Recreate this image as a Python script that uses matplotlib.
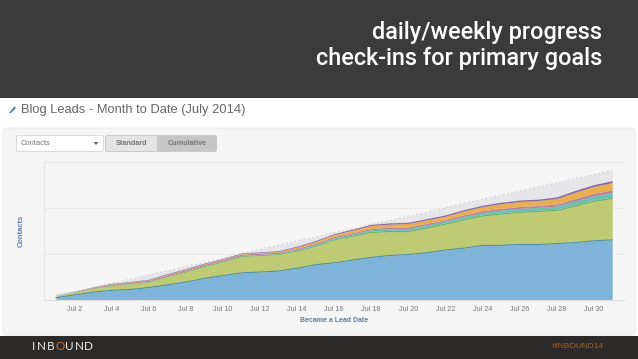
import numpy as np
import matplotlib
matplotlib.use('Agg')
from matplotlib import pyplot as plt
from matplotlib.patches import FancyBboxPatch, Rectangle, Polygon

W, H = 638, 359

# cumulative contacts per source, one value per day of July
days = list(range(1, 32))
tick_days = list(range(2, 31, 2))
tick_labels = ['Jul %d' % d for d in tick_days]
blue = [2, 5, 8, 10, 11, 13, 16, 19, 23, 26, 29, 30, 31, 34, 38, 40, 43, 46, 48, 49, 51, 54, 56, 59, 59, 60, 60, 61, 62, 64, 65]
olive = [2, 3, 4, 5, 6, 6, 9, 11, 13, 15, 18, 18, 18, 19, 20, 25, 26, 27, 26, 25, 27, 28, 31, 32, 34, 35, 36, 36, 40, 43, 45]
green = [.2, .3, .5, .7, .7, .8, .8, 1, 1, 1, 1, 1, 1, 1, 1.2, 1.2, 1.3, 1.5, 1.5, 1.5, 1.5, 1.5, 1.5, 1.5, 1.5, 1.5, 1.5, 1.5, 1.5, 1.5, 1.5]
teal = [0, 0, 0, 0, 0, 0, 0, .2, .2, .2, .2, .3, .3, .6, 1, 1, 1.3, 1.6, 1.8, 2, 2, 2, 2.2, 2.4, 3, 3, 3, 3.4, 4, 4.5, 5]
mauve = [.1, .2, .5, .8, .9, 1, 1.1, 1.2, 1.2, 1.2, 1.2, 1.3, 1.3, 1.3, 1.3, 1.3, 1.3, 1.4, 1.5, 1.6, 1.6, 1.6, 1.7, 1.9, 2, 2, 2, 2.2, 2.5, 2.8, 3]
orange = [.1, .1, .3, .4, .5, .5, .6, .6, .6, .6, .6, .7, .9, 1.4, 1.9, 2.3, 2.8, 3.2, 3.4, 3.8, 3.8, 3.8, 4.2, 4.5, 5, 5.4, 5.4, 6, 7, 7.5, 8]
purple = [.1, .2, .4, .6, .6, .7, .7, .7, .7, .7, .7, .7, .8, .9, 1, 1, 1.2, 1.3, 1.4, 1.4, 1.4, 1.4, 1.5, 1.5, 1.6, 1.6, 1.6, 1.8, 2, 2, 2.2]
# grey series behind the stack (dashed top edge)
goal = [5, 9, 13, 18, 22, 27, 31, 36, 40, 45, 50, 55, 59, 64, 68, 73, 77, 82, 86, 91, 95, 100, 105, 109, 114, 118, 123, 127, 132, 136, 141]

stack = [blue, olive, green, teal, mauve, orange, purple]
fills = ['#80b3da', '#bfcb74', '#6eb060', '#6cc0b0', '#b9809f', '#e9ad52', '#8a6aa6']
edges = ['#4b92aa', None, None, None, None, None, None]

fig = plt.figure(figsize=(W / 100, H / 100), dpi=100, facecolor='white')

# full figure layer in pixel coordinates for the slide furniture
bg = fig.add_axes([0, 0, 1, 1])
bg.set_xlim(0, W)
bg.set_ylim(H, 0)
bg.axis('off')
bg.add_patch(Rectangle((0, 0), W, 98, color='#3b3b3b', lw=0))
bg.add_patch(Rectangle((0, 336), W, 23, color='#2b2a29', lw=0))
bg.add_patch(FancyBboxPatch((6, 131), 626, 201, boxstyle='round,pad=3,rounding_size=4', fc='#f5f5f5', ec='#ececec', lw=0.8))

bg.text(602, 33, 'daily/weekly progress', color='white', fontsize=16.9, family='Roboto', weight='medium', ha='right', va='center')
bg.text(602, 58, 'check-ins for primary goals', color='white', fontsize=16.9, family='Roboto', weight='medium', ha='right', va='center')

bg.add_patch(Polygon([[9, 113], [11, 113], [16, 108], [14.5, 106.5]], color='#3f7fb8', lw=0))
bg.text(21, 110, 'Blog Leads - Month to Date (July 2014)', color='#666666', fontsize=9.3, family='Liberation Sans', ha='left', va='center')

# dropdown and toggle buttons
bg.add_patch(FancyBboxPatch((17, 136), 86, 15, boxstyle='round,pad=0.5,rounding_size=2', fc='white', ec='#d8d8d8', lw=0.7))
bg.text(21, 143.5, 'Contacts', color='#777777', fontsize=5.4, family='Liberation Sans', ha='left', va='center')
bg.add_patch(Polygon([[93.5, 142], [98.5, 142], [96, 145]], color='#666666', lw=0))
bg.add_patch(FancyBboxPatch((106, 136), 110, 15, boxstyle='round,pad=0.5,rounding_size=2', fc='#e4e4e4', ec='#c8c8c8', lw=0.7))
bg.add_patch(Rectangle((157, 135.6), 59.5, 15.8, color='#c6c6c6', lw=0))
bg.text(131.5, 143.5, 'Standard', color='#777777', fontsize=5.2, weight='bold', family='Liberation Sans', ha='center', va='center')
bg.text(187, 143.5, 'Cumulative', color='#777777', fontsize=5.2, weight='bold', family='Liberation Sans', ha='center', va='center')

# footer logo and hashtag
logo_x = [33.5, 41, 50.5, 60, 69.5, 79, 88.5]
for letter, lx in zip('INBOUND', logo_x):
    bg.text(lx, 347, letter, color='#c9702e' if letter == 'O' else '#f0f0f0', fontsize=8.4, family='Lato', ha='center', va='center')
bg.text(604, 347, '#INBOUND14', color='#a8622e', fontsize=6, family='Liberation Sans', ha='right', va='center')

# the chart, x from px 44 to 624, y from px 299.5 to 162
ax = fig.add_axes([44 / W, 1 - 299.5 / H, 580 / W, 137.5 / H])
ax.patch.set_alpha(0)
ax.set_xlim(0.353, 31.64)
ax.set_ylim(0, 150)
ax.set_yticks([50, 100, 150])
ax.set_yticklabels([])
ax.tick_params(axis='y', length=0)
ax.grid(axis='y', color='#e9e9e9', lw=0.8)
ax.set_axisbelow(True)
for s in ['top', 'right']:
    ax.spines[s].set_visible(False)
ax.spines['left'].set_color('#e6e6e6')
ax.spines['bottom'].set_color('#dddddd')
ax.spines['left'].set_linewidth(0.8)
ax.spines['bottom'].set_linewidth(0.8)

ax.fill_between(days, 0, goal, color='#e6e6e8', lw=0, zorder=1)
ax.plot(days, goal, color='#d2d2d4', lw=0.8, ls=(0, (2, 2)), zorder=1.5)

base = np.zeros(len(days))
for vals, fc, ec in zip(stack, fills, edges):
    top = base + np.array(vals)
    ax.fill_between(days, base, top, color=fc, lw=0, zorder=2)
    if ec:
        ax.plot(days, top, color=ec, lw=0.8, zorder=3)
    base = top

ax.set_xticks(tick_days)
ax.set_xticklabels(tick_labels, fontsize=5.2, color='#777777', family='Liberation Sans')
ax.tick_params(axis='x', length=0, pad=4.5)

bg.text(334, 320, 'Became a Lead Date', color='#5d7fa6', fontsize=5.0, weight='bold', family='Liberation Sans', ha='center', va='center')
bg.text(21, 231, 'Contacts', color='#5d7fa6', fontsize=5.4, weight='bold', family='Liberation Sans', rotation=90, ha='center', va='center')

fig.savefig('out.png', dpi=100)
